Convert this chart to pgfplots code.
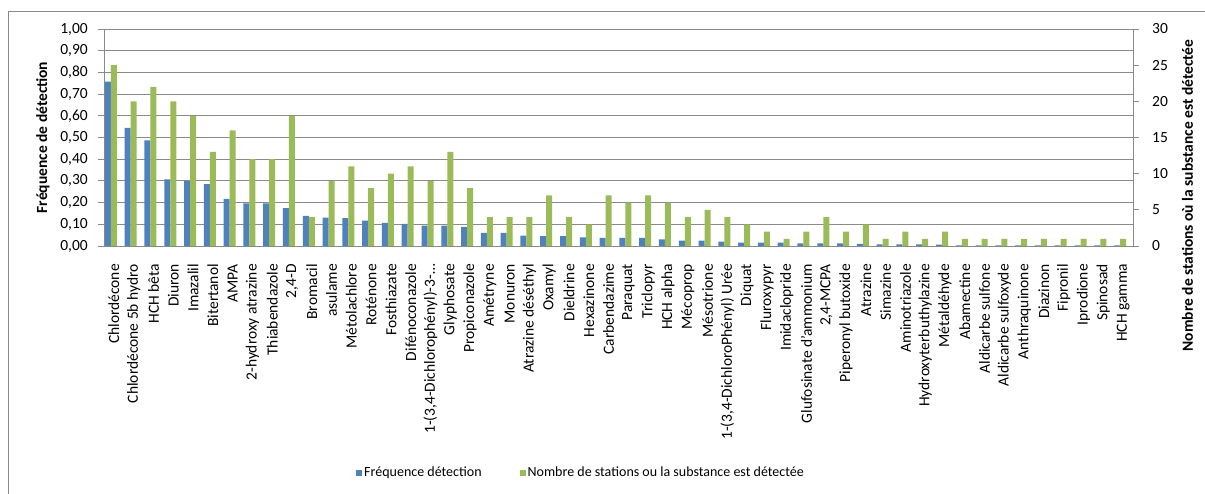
\documentclass[border=0pt]{standalone}
\usepackage{fontspec}
\setmainfont{Carlito}
\usepackage{pgfplots}
\pgfplotsset{compat=1.18}
\usepackage{pgfplotstable}

\definecolor{xlblue}{HTML}{4F81BD}
\definecolor{xlgreen}{HTML}{9BBB59}
\definecolor{xlgrid}{HTML}{8A8A8A}

\pgfplotstableread{
x f n
0 0.758 25
1 0.544 20
2 0.487 22
3 0.307 20
4 0.299 18
5 0.285 13
6 0.217 16
7 0.196 12
8 0.196 12
9 0.174 18
10 0.139 4
11 0.131 9
12 0.128 11
13 0.117 8
14 0.106 10
15 0.102 11
16 0.094 9
17 0.094 13
18 0.088 8
19 0.060 4
20 0.060 4
21 0.048 4
22 0.045 7
23 0.045 4
24 0.040 3
25 0.037 7
26 0.037 6
27 0.037 7
28 0.031 6
29 0.025 4
30 0.025 5
31 0.020 4
32 0.015 3
33 0.015 2
34 0.015 1
35 0.012 2
36 0.012 4
37 0.012 2
38 0.010 3
39 0.008 1
40 0.008 2
41 0.008 1
42 0.006 2
43 0.003 1
44 0.003 1
45 0.003 1
46 0.003 1
47 0.003 1
48 0.003 1
49 0.003 1
50 0.003 1
51 0.003 1
}\datatable

\newcommand{\fs}{\fontsize{15.5bp}{18bp}\selectfont}
\newcommand{\fl}{\fontsize{14bp}{17bp}\selectfont}

\begin{document}
\begin{tikzpicture}
\useasboundingbox (0,0) rectangle (1205bp,494bp);
\draw[xlgrid, line width=0.8bp] (8bp,0) -- (8bp,483bp) -- (1205bp,483bp);
\pgfplotsset{
 common/.style={
  scale only axis, width=1029bp, height=217bp,
  at={(104bp,248bp)}, anchor=south west,
  xmin=-0.5, xmax=51.5, ybar, bar width=6bp,
  tick align=outside,
  every tick label/.append style={font=\fs},
  axis line style={xlgrid, line width=0.8bp},
  tick style={xlgrid, line width=0.8bp},
  label style={font=\fs\bfseries},
 }
}
\begin{axis}[common,
  ymin=0, ymax=1,
  axis y line*=left, axis x line*=bottom,
  ytick={0,0.1,...,1.01},
  major tick length=6bp,
  ymajorgrids, grid style={xlgrid, line width=0.8bp},
  yticklabel style={/pgf/number format/fixed, /pgf/number format/fixed zerofill, /pgf/number format/precision=2, /pgf/number format/use comma, /pgf/number format/assume math mode=true, anchor=east, inner sep=0pt, xshift=-10bp},
  xtick={0,...,51},
  xticklabels={Chlordécone, Chlordécone 5b hydro, HCH bêta, Diuron, Imazalil, Bitertanol, AMPA, 2-hydroxy atrazine, Thiabendazole, {2,4-D}, Bromacil, asulame, Métolachlore, Roténone, Fosthiazate, Difénoconazole, {1-(3,4-Dichlorophényl)-3-…}, Glyphosate, Propiconazole, Amétryne, Monuron, Atrazine déséthyl, Oxamyl, Dieldrine, Hexazinone, Carbendazime, Paraquat, Triclopyr, HCH alpha, Mécoprop, Mésotrione, {1-(3,4-DichloroPhényl) Urée}, Diquat, Fluroxypyr, Imidaclopride, Glufosinate d'ammonium, {2,4-MCPA}, Piperonyl butoxide, Atrazine, Simazine, Aminotriazole, Hydroxyterbuthylazine, Métaldéhyde, Abamectine, Aldicarbe sulfone, Aldicarbe sulfoxyde, Anthraquinone, Diazinon, Fipronil, Iprodione, Spinosad, HCH gamma},
  x tick style={draw=none},
  minor xtick={-0.5,0.5,...,51.6},
  minor x tick style={xlgrid, line width=0.8bp},
  minor tick length=5bp,
  xticklabel style={yshift=-12bp, rotate=90, anchor=east, inner sep=0pt},
  ylabel={Fréquence de détection},
  ylabel style={at={(axis description cs:-0.0593,0.5)}, anchor=center},
]
\addplot[fill=xlblue, draw=none, bar shift=-6bp] table[x=x,y=f]{\datatable};
\end{axis}
\begin{axis}[common,
  ymin=0, ymax=30,
  axis y line*=right, axis x line=none,
  ytick={0,5,...,30},
  major tick length=6bp,
  yticklabel style={/pgf/number format/assume math mode=true, anchor=west, inner sep=0pt, xshift=13bp},
  ylabel={Nombre de stations où la substance est détectée},
  ylabel style={at={(axis description cs:1.053,0.233)}, anchor=center},
  legend columns=2,
  legend style={draw=none, fill=none, font=\fl, at={(axis description cs:0.4636,-1.045)}, anchor=center,
    /tikz/every even column/.append style={column sep=36bp}},
  legend image code/.code={\fill[#1] (0bp,-3bp) rectangle (6bp,3bp);},
]
\addlegendimage{fill=xlblue, draw=none}
\addlegendentry{Fréquence détection}
\addplot[fill=xlgreen, draw=none, bar shift=0bp] table[x=x,y=n]{\datatable};
\addlegendentry{Nombre de stations ou la substance est détectée}
\end{axis}
\end{tikzpicture}
\end{document}
